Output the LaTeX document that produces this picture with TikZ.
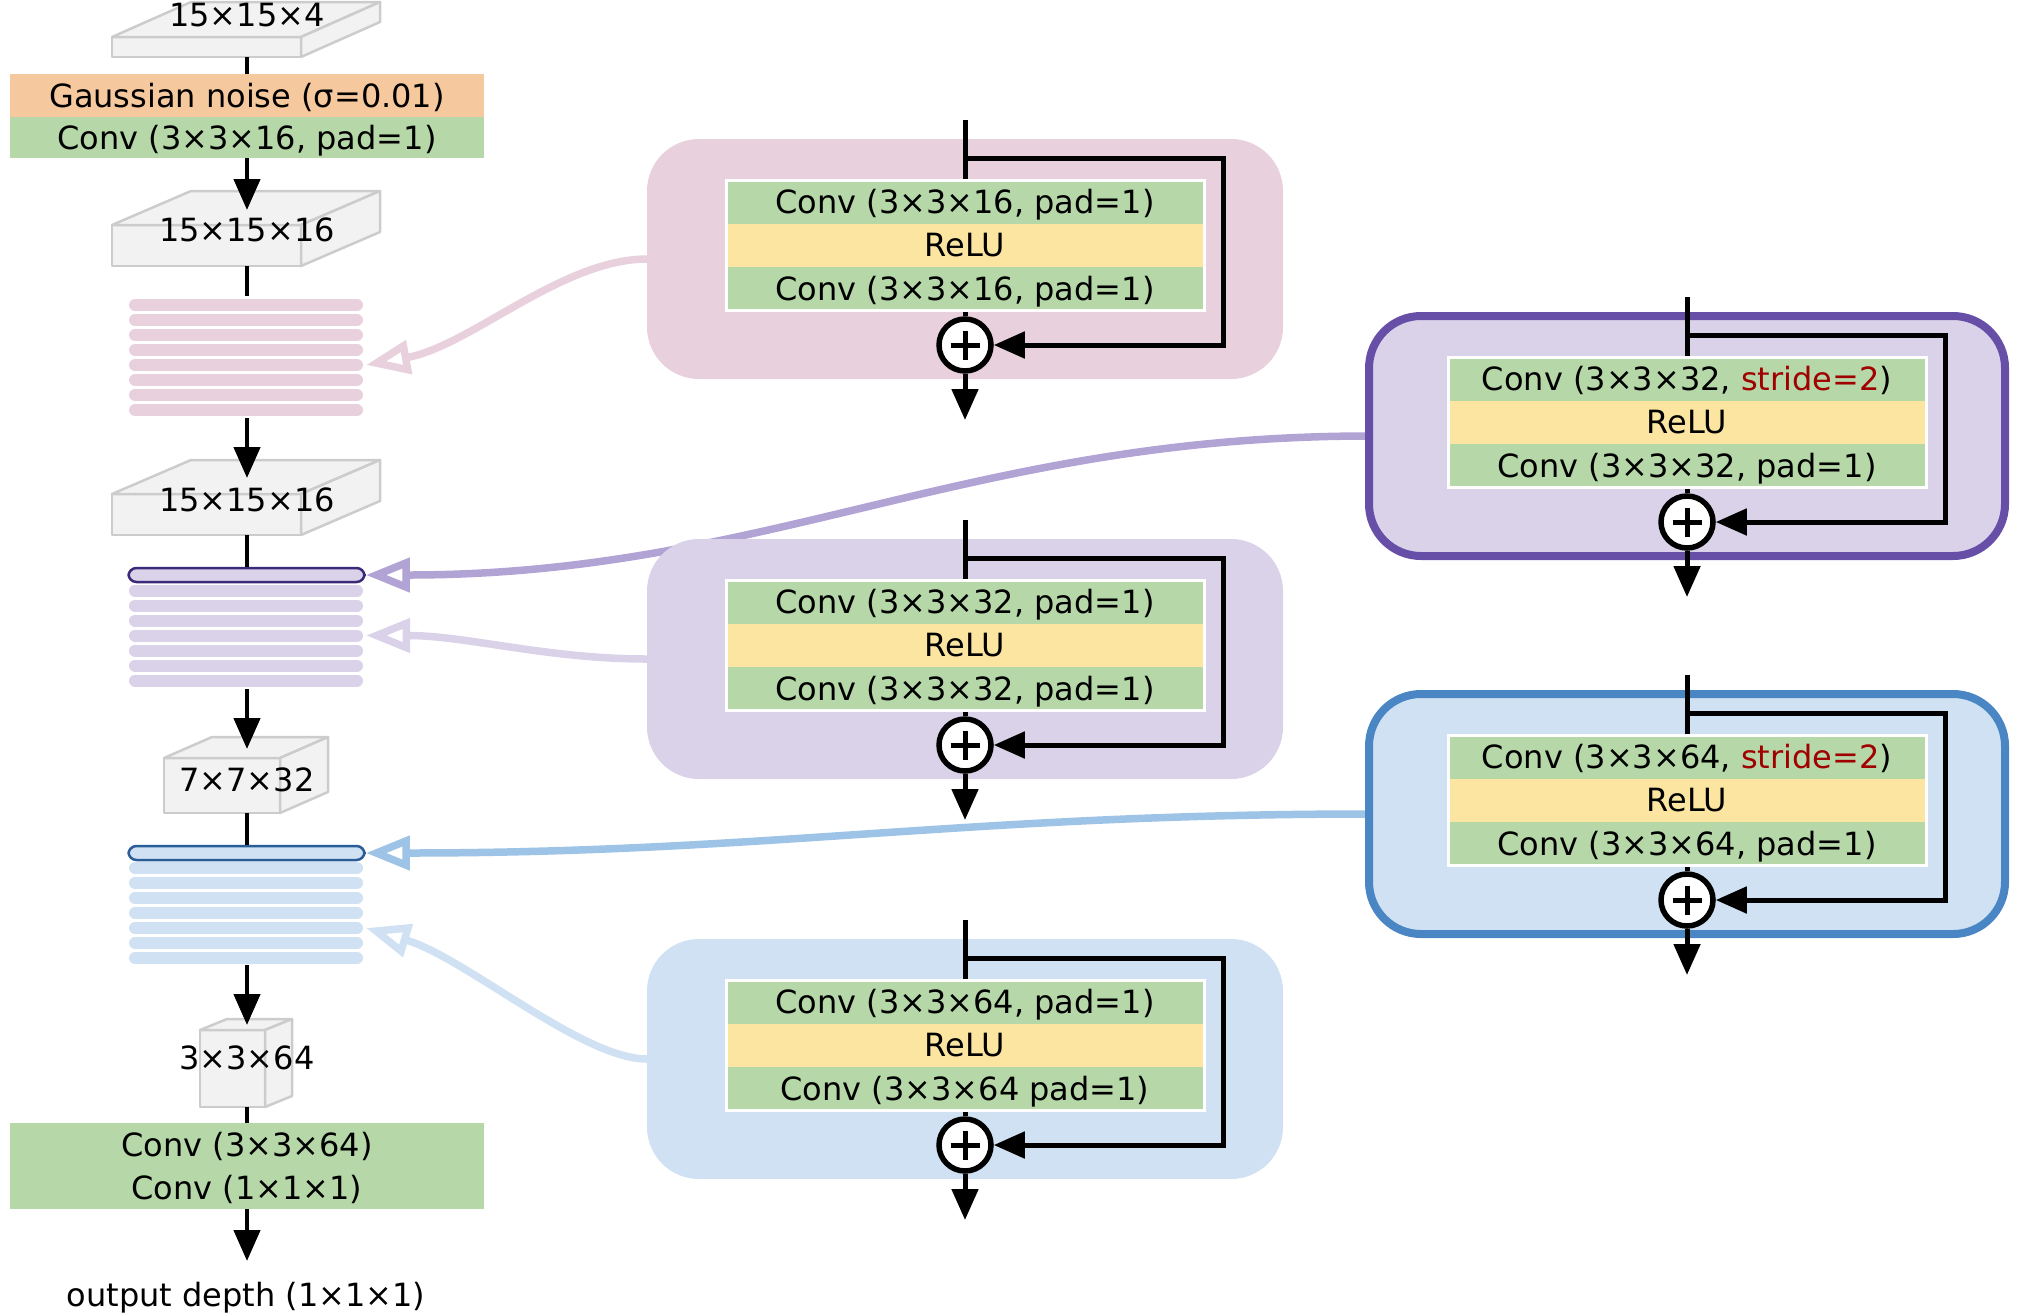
\documentclass[tikz,border=0pt]{standalone}
\usepackage{fontspec}
\setmainfont{DejaVu Sans}
\usetikzlibrary{arrows.meta}
\definecolor{convgreen}{HTML}{B6D7A8}
\definecolor{relu}{HTML}{FCE5A0}
\definecolor{noise}{HTML}{F6C89E}
\definecolor{pinkbg}{HTML}{E8D1DC}
\definecolor{purbg}{HTML}{D9D2E9}
\definecolor{blubg}{HTML}{CFE1F2}
\definecolor{purdark}{HTML}{674EA7}
\definecolor{bludark}{HTML}{4A86C4}
\definecolor{purline}{HTML}{B1A3D4}
\definecolor{bluline}{HTML}{9DC3E6}
\definecolor{purhl}{HTML}{3A2A78}
\definecolor{bluhl}{HTML}{2A5C98}
\definecolor{cubefill}{HTML}{F2F2F2}
\definecolor{cubeedge}{HTML}{CCCCCC}
\definecolor{strideRed}{HTML}{A00000}

\pgfdeclarelayer{conn}\pgfdeclarelayer{bgl}\pgfdeclarelayer{lines}
\pgfsetlayers{conn,bgl,lines,main}

\tikzset{
 txt/.style={font=\fontsize{32}{38}\selectfont, text height=23.3pt, text depth=0pt, inner sep=0pt},
 band/.style={txt, minimum width=474pt, outer sep=0pt},
 row/.style={txt, minimum width=478pt, minimum height=43.5pt, outer sep=0pt},
 flow/.style={line width=4.5pt, black},
 flowarrow/.style={flow, -{Triangle[length=31pt,width=26pt]}},
 skipflow/.style={line width=5pt, black},
 skiparrow/.style={skipflow, -{Triangle[length=31pt,width=26pt]}},
 cube/.style={fill=cubefill, draw=cubeedge, line width=2.5pt, line join=round},
 stripe/.style={line width=12pt, line cap=round},
 connector/.style={line width=7.5pt, -{Triangle[open, length=44pt, width=33pt]}},
 blockbg/.style={rounded corners=52pt, minimum width=636pt, minimum height=240pt, inner sep=0pt, outer sep=0pt},
 addc/.style={circle, draw, fill=white, line width=5.5pt, minimum size=52pt, inner sep=0pt},
 hlstripe/.style={line width=2.5pt, rounded corners=8pt, minimum width=236pt, minimum height=14pt, inner sep=0pt},
}

\newcommand\mycube[7]{%
  \node[cube, minimum width=#4pt, minimum height=#5pt, inner sep=0pt, outer sep=0pt] (#1) at (#2,#3) {};
  \draw[cube] (#1.north west) -- ++(#6,-#7) -- ++(#4,0) -- (#1.north east) -- cycle;
  \draw[cube] (#1.north east) -- ++(#6,-#7) -- ++(0,#5) -- (#1.south east) -- cycle;
}

\newcommand\resblock[8]{%
  \begin{pgfonlayer}{bgl}
    \node[blockbg, fill=#4, #5] (#1bg) at (#2,#3+79) {};
  \end{pgfonlayer}
  \node[row, fill=convgreen, anchor=north] (#1a) at (#2,#3) {#6};
  \node[row, fill=relu, anchor=north] (#1b) at (#1a.south) {#7};
  \node[row, fill=convgreen, anchor=north] (#1c) at (#1b.south) {#8};
  \draw[white, line width=3pt] (#1a.north west) rectangle (#1c.south east);
  \node[addc] (#1add) at (#2,#3+165) {};
  \draw[line width=5pt] (#1add.center) +(-14.5,0) -- +(14.5,0) (#1add.center) +(0,-14.5) -- +(0,14.5);
  \coordinate (#1in) at (#2,#3-60);
  \coordinate (#1br) at (#2,#3-22);
  \coordinate (#1sk) at (#2+258,#3-22);
  \coordinate (#1out) at (#2,#3+240);
  \begin{pgfonlayer}{lines}
    \draw[skipflow] (#1in) -- (#1add);
    \draw[skiparrow] (#1br) -- (#1sk) |- (#1add.east);
  \end{pgfonlayer}
  \draw[skiparrow] (#1add.south) -- (#1out);
}

\begin{document}
\begin{tikzpicture}[x=1pt, y=-1pt]
\useasboundingbox (0,0) rectangle (2020,1315);
\coordinate (axis) at (247,0);

% ---------- left column ----------
\mycube{cubeA}{206.5}{47}{189}{20}{79}{35}
\node[txt] (tA) at (247,15) {15×15×4};
\node[band, fill=noise, minimum height=43pt] (noise) at (247,95.5) {Gaussian noise (σ=0.01)};
\node[band, fill=convgreen, minimum height=41pt] (conv1) at (247,137.5) {Conv (3×3×16, pad=1)};

\mycube{cubeB}{206.5}{245.5}{189}{41}{79}{34}
\node[txt] (tB) at (247,230) {15×15×16};

\foreach \k in {0,...,7} \draw[stripe, pinkbg] (135,305+15*\k) -- (357,305+15*\k);

\mycube{cubeC}{206.5}{514.5}{189}{41}{79}{34}
\node[txt] (tC) at (247,500) {15×15×16};

\foreach \k in {0,...,6} \draw[stripe, purbg] (135,590.5+15*\k) -- (357,590.5+15*\k);
\node[hlstripe, draw=purhl, fill=purbg] (purH) at (246.5,575) {};

\mycube{cubeD}{222}{785.5}{116}{55}{48}{21}
\node[txt] (tD) at (247,780) {7×7×32};

\foreach \k in {0,...,6} \draw[stripe, blubg] (135,868+15*\k) -- (357,868+15*\k);
\node[hlstripe, draw=bluhl, fill=blubg] (bluH) at (246.5,853) {};

\mycube{cubeE}{232.5}{1068.5}{65}{77}{27}{11}
\node[txt] (tE) at (247,1058) {3×3×64};

\node[band, fill=convgreen, minimum height=86pt] (outconv) at (247,1166) {};
\node[txt] (oc1) at (247,1145) {Conv (3×3×64)};
\node[txt] (oc2) at (247,1188) {Conv (1×1×1)};
\node[txt] (outtxt) at (246,1295) {output depth (1×1×1)};

\coordinate (tipB) at (247,210);
\coordinate (pinktop) at (247,296);
\coordinate (pinkbot) at (247,418);
\coordinate (tipC) at (247,478);
\coordinate (purbot) at (247,689);
\coordinate (tipD) at (247,749);
\coordinate (blubot) at (247,965);
\coordinate (tipE) at (247,1025);
\coordinate (tipOut) at (247,1261);

\draw[flow] (cubeA.south -| axis) -- (noise.north);
\draw[flowarrow] (conv1.south) -- (tipB);
\draw[flow] (cubeB.south -| axis) -- (pinktop);
\draw[flowarrow] (pinkbot) -- (tipC);
\draw[flow] (cubeC.south -| axis) -- (purH.north -| axis);
\draw[flowarrow] (purbot) -- (tipD);
\draw[flow] (cubeD.south -| axis) -- (bluH.north -| axis);
\draw[flowarrow] (blubot) -- (tipE);
\draw[flow] (cubeE.south -| axis) -- (outconv.north);
\draw[flowarrow] (outconv.south) -- (tipOut);

% ---------- residual blocks ----------
\resblock{pk}{965}{180}{pinkbg}{draw=none}{Conv (3×3×16, pad=1)}{ReLU}{Conv (3×3×16, pad=1)}
\resblock{pm}{965}{580}{purbg}{draw=none}{Conv (3×3×32, pad=1)}{ReLU}{Conv (3×3×32, pad=1)}
\resblock{bm}{965}{980}{blubg}{draw=none}{Conv (3×3×64, pad=1)}{ReLU}{Conv (3×3×64 pad=1)}
\resblock{pr}{1687}{357}{purbg}{draw=purdark, line width=8pt}{Conv (3×3×32, \textcolor{strideRed}{stride=2})}{ReLU}{Conv (3×3×32, pad=1)}
\resblock{br}{1687}{735}{blubg}{draw=bludark, line width=8pt}{Conv (3×3×64, \textcolor{strideRed}{stride=2})}{ReLU}{Conv (3×3×64, pad=1)}

% ---------- connectors to the stripes ----------
\coordinate (pinktgt) at (366,365);
\coordinate (purtgt) at (366,635.5);
\coordinate (blutgt) at (366,928);
\begin{pgfonlayer}{conn}
\draw[connector, draw=pinkbg] (pkbg.west) .. controls +(-85,0) and +(104,-19) .. (pinktgt);
\draw[connector, draw=purline] (prbg.west) .. controls +(-400,0) and +(400,0) .. (purH.east);
\draw[connector, draw=purbg] (pmbg.west) .. controls +(-100,0) and +(100,0) .. (purtgt);
\draw[connector, draw=bluline] (brbg.west) .. controls +(-400,0) and +(400,0) .. (bluH.east);
\draw[connector, draw=blubg] (bmbg.west) .. controls +(-65,0) and +(100,30) .. (blutgt);
\end{pgfonlayer}
\end{tikzpicture}
\end{document}
